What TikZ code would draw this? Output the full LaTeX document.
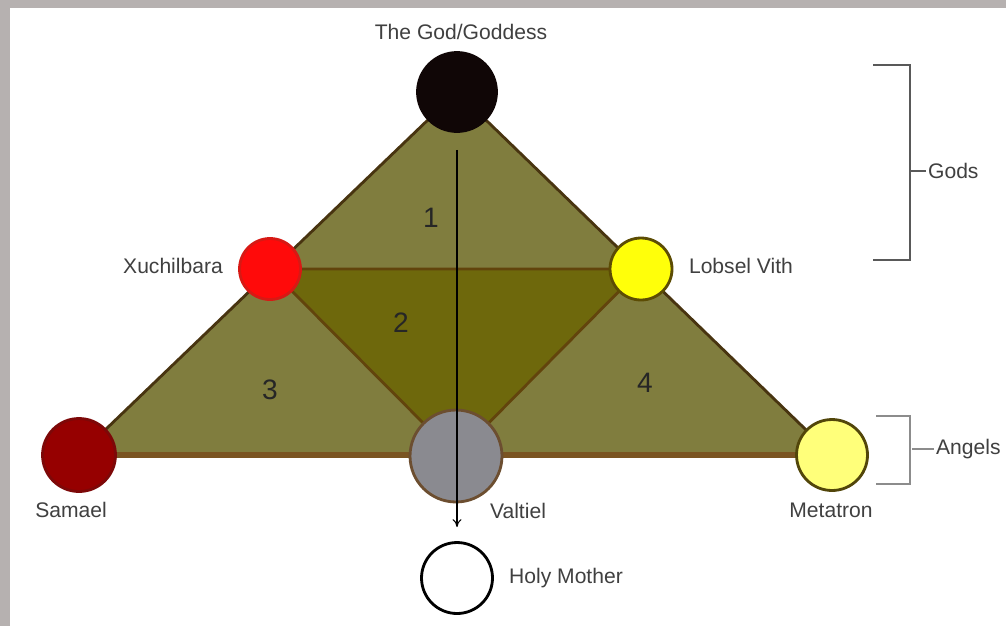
\documentclass[tikz,border=0pt]{standalone}
\usepackage{fontspec}
\setsansfont{Liberation Sans}
\usetikzlibrary{arrows.meta,backgrounds}

\definecolor{frameGray}{RGB}{182,177,176}
\definecolor{outerOlive}{RGB}{128,125,62}
\definecolor{innerOlive}{RGB}{110,104,12}
\definecolor{sideDark}{RGB}{72,52,16}
\definecolor{midBrown}{RGB}{98,68,12}
\definecolor{baseBrown}{RGB}{122,84,34}
\definecolor{godBlack}{RGB}{16,6,6}
\definecolor{xuchRed}{RGB}{255,10,10}
\definecolor{xuchRim}{RGB}{215,25,20}
\definecolor{lobYellow}{RGB}{255,255,10}
\definecolor{lobRim}{RGB}{92,76,4}
\definecolor{samRed}{RGB}{150,0,0}
\definecolor{samRim}{RGB}{125,8,8}
\definecolor{valGray}{RGB}{138,138,144}
\definecolor{valRim}{RGB}{108,78,48}
\definecolor{metYellow}{RGB}{255,255,122}
\definecolor{metRim}{RGB}{82,70,10}

\begin{document}
\begin{tikzpicture}[
    x=0.02cm, y=-0.02cm,
    font=\sffamily\fontsize{12}{14}\selectfont,
    orb/.style={circle, draw, line width=1.6pt, inner sep=0pt},
    lbl/.style={text=black!75, inner sep=1pt},
    num/.style={font=\sffamily\fontsize{16}{18}\selectfont, text=black!85},
    trisides/.style={draw=sideDark, line width=1.6pt, line join=round},
    basebar/.style={draw=baseBrown, line width=3.4pt},
    brk/.style={line width=1.2pt, draw=black!65},
    arr/.style={-{To[length=1.6mm,width=1.8mm]}, line width=0.6pt}
]
    \path[use as bounding box] (0,0) rectangle (1006,626);

    \node[orb, fill=godBlack, draw=godBlack, minimum size=1.58cm] (god) at (457,92) {};
    \node[orb, fill=xuchRed, draw=xuchRim, minimum size=1.22cm] (xuch) at (270,269) {};
    \node[orb, fill=lobYellow, draw=lobRim, minimum size=1.24cm] (lob) at (641,269) {};
    \node[orb, fill=samRed, draw=samRim, minimum size=1.46cm] (sam) at (79,455) {};
    \node[orb, fill=valGray, draw=valRim, minimum size=1.84cm] (val) at (456,456) {};
    \node[orb, fill=metYellow, draw=metRim, minimum size=1.42cm] (met) at (832,455) {};
    \node[orb, fill=white, draw=black, minimum size=1.42cm] (holy) at (457,578) {};

    \begin{scope}[on background layer]
        \fill[frameGray] (0,0) rectangle (1006,626);
        \fill[white] (10,8) rectangle (1006,626);
        \filldraw[fill=outerOlive, trisides] (god.center) -- (sam.center) -- (met.center) -- cycle;
        \filldraw[fill=innerOlive, draw=midBrown, line width=1.6pt, line join=round]
            (xuch.center) -- (lob.center) -- (val.center) -- cycle;
        \draw[basebar] (sam.center) -- (met.center);
    \end{scope}

    \node[num] (n1) at (431,218) {1};
    \node[num] (n2) at (401,323) {2};
    \node[num] (n3) at (270,390) {3};
    \node[num] (n4) at (645,383) {4};

    \node[lbl] (godL) at (461,32) {The God/Goddess};
    \node[lbl] (xuchL) at (173,266) {Xuchilbara};
    \node[lbl] (lobL) at (741,266) {Lobsel Vith};
    \node[lbl] (samL) at (71,510) {Samael};
    \node[lbl] (valL) at (518,511) {Valtiel};
    \node[lbl] (metL) at (831,510) {Metatron};
    \node[lbl] (holyL) at (566,578) {Holy Mother};

    \draw[arr, shorten <=0.34cm, shorten >=0.28cm] (god.south) -- (holy.north);

    % brackets
    \coordinate (gTop) at (873,65);
    \coordinate (gBot) at (873,260);
    \node[lbl, anchor=west] (gods) at (926,171) {Gods};
    \draw[brk] (gTop) -- ++(37,0) |- (gBot);
    \draw[brk] (gods.west) -- ++(-16,0);

    \coordinate (aTop) at (876,416);
    \coordinate (aBot) at (876,484);
    \node[lbl, anchor=west] (angels) at (934,449) {Angels};
    \draw[brk, draw=black!45] (aTop) -- ++(34,0) |- (aBot);
    \draw[brk, draw=black!45] (angels.west) -- ++(-22,0);
\end{tikzpicture}
\end{document}
